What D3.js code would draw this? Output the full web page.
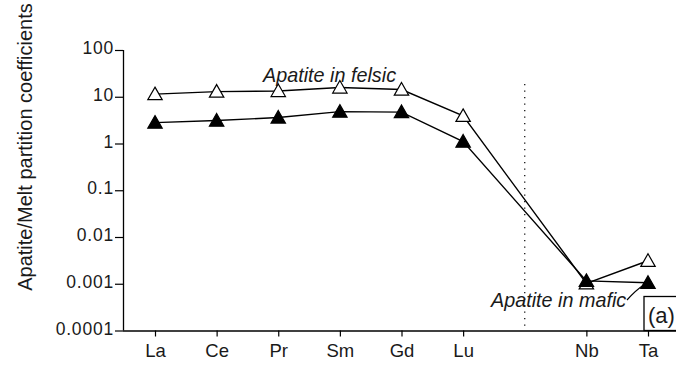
<!DOCTYPE html>
<html>
<head>
<meta charset="utf-8">
<script src="https://cdn.jsdelivr.net/npm/d3@7"></script>
<style>
  html, body { margin: 0; padding: 0; background: #fff; }
  svg { display: block; font-family: "Liberation Sans", Arial, sans-serif; }
</style>
</head>
<body>
<svg id="chart" width="676" height="366"></svg>
<script>
// ---- data ----
const categories = ["La", "Ce", "Pr", "Sm", "Gd", "Lu", "Nb", "Ta"];
const slots = ["La", "Ce", "Pr", "Sm", "Gd", "Lu", "gap", "Nb", "Ta"];
const felsic = [11.4, 12.9, 13.3, 15.8, 14.3, 3.9, 0.00102, 0.0031];
const mafic  = [2.8, 3.1, 3.6, 4.8, 4.7, 1.1, 0.00115, 0.00105];
const yTicks = [0.0001, 0.001, 0.01, 0.1, 1, 10, 100];
const yTickLabels = ["0.0001", "0.001", "0.01", "0.1", "1", "10", "100"];
const yTitle = "Apatite/Melt partition coefficients";
const felsicLabel = "Apatite in felsic";
const maficLabel = "Apatite in mafic";
const panelLabel = "(a)";

// ---- layout ----
const svg = d3.select("#chart");
const axisX = 123, axisY = 330.5, topY = 50;

const x = d3.scalePoint().domain(slots).range([155, 648]);
const y = d3.scaleLog().domain([0.0001, 100]).range([axisY, topY]);

// y axis
const yAxis = d3.axisLeft(y)
  .tickValues(yTicks)
  .tickFormat((d, i) => yTickLabels[i])
  .tickSize(8).tickSizeOuter(0).tickPadding(1);
const gy = svg.append("g").attr("transform", `translate(${axisX},0)`).call(yAxis);
gy.select(".domain").attr("stroke", "#000").attr("stroke-width", 1.3)
  .attr("d", `M0.5,${topY}V${axisY}`);
gy.selectAll(".tick line").attr("stroke", "#000").attr("stroke-width", 1.2);
gy.selectAll(".tick text").attr("fill", "#1a1a1a").style("font-size", "17.5px")
  .attr("dy", "0.2em").attr("letter-spacing", "0.8px");

// x axis
const xAxis = d3.axisBottom(x)
  .tickValues(categories)
  .tickSize(6).tickSizeOuter(0).tickPadding(7.5);
const gx = svg.append("g").attr("transform", `translate(0,${axisY})`).call(xAxis);
gx.select(".domain").attr("stroke", "#000").attr("stroke-width", 1.3)
  .attr("d", `M${axisX},0.5H676`);
gx.selectAll(".tick line").attr("stroke", "#000").attr("stroke-width", 1.2);
gx.selectAll(".tick text").attr("fill", "#1a1a1a").style("font-size", "18.5px");

// y title
svg.append("text")
  .attr("transform", `translate(32,147) rotate(-90)`)
  .attr("text-anchor", "middle")
  .attr("fill", "#1a1a1a")
  .style("font-size", "20px")
  .text(yTitle);

// dotted separator
svg.append("line")
  .attr("x1", x("gap")).attr("x2", x("gap"))
  .attr("y1", 84).attr("y2", axisY)
  .attr("stroke", "#000").attr("stroke-width", 1.2)
  .attr("stroke-dasharray", "1.3,5.2");

// series
const pts = vals => categories.map((c, i) => ({ c, v: vals[i] }));
const line = d3.line().x(d => x(d.c)).y(d => y(d.v));
const tri = "M0,-7L7.2,5.6L-7.2,5.6Z";

function drawSeries(vals) {
  const g = svg.append("g");
  g.append("path").datum(pts(vals)).attr("d", line)
    .attr("fill", "none").attr("stroke", "#000").attr("stroke-width", 1.4);
  return g;
}
const gF = drawSeries(felsic);
const gM = drawSeries(mafic);
gF.selectAll("path.m").data(pts(felsic)).join("path").attr("class", "m")
  .attr("transform", d => `translate(${x(d.c)},${y(d.v)})`)
  .attr("d", tri).attr("fill", "#fff").attr("stroke", "#000").attr("stroke-width", 1.2);
gM.selectAll("path.m").data(pts(mafic)).join("path").attr("class", "m")
  .attr("transform", d => `translate(${x(d.c)},${y(d.v)})`)
  .attr("d", tri).attr("fill", "#000").attr("stroke", "#000").attr("stroke-width", 1.2);

// annotations
svg.append("text").attr("x", 263).attr("y", 82)
  .style("font-size", "19.8px").style("font-style", "italic").attr("fill", "#1a1a1a")
  .text(felsicLabel);
svg.append("text").attr("x", 491).attr("y", 306.5)
  .style("font-size", "19.8px").style("font-style", "italic").attr("fill", "#1a1a1a")
  .text(maficLabel);
svg.append("path")
  .attr("d", `M627,300Q636,290 ${x("Ta") - 4},${y(mafic[7]) + 2}`)
  .attr("fill", "none").attr("stroke", "#000").attr("stroke-width", 1.2);

// panel label box
svg.append("rect").attr("x", 644).attr("y", 296.5).attr("width", 40).attr("height", axisY - 296.5)
  .attr("fill", "#fff").attr("stroke", "#000").attr("stroke-width", 1.3);
svg.append("text").attr("x", 648).attr("y", 322.5)
  .style("font-size", "22px").attr("fill", "#1a1a1a").text(panelLabel);
</script>
</body>
</html>
